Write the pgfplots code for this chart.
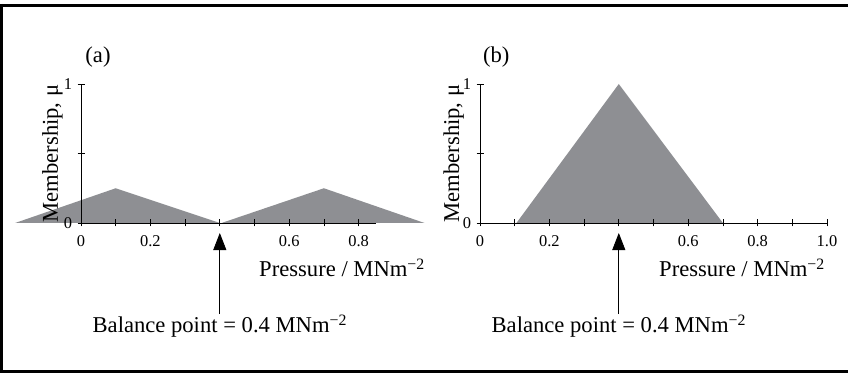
\documentclass[border=0pt]{standalone}
\usepackage{fontspec}
\setmainfont{Liberation Serif}
\usepackage{pgfplots}
\pgfplotsset{compat=1.18}
\usetikzlibrary{arrows.meta}
\definecolor{trigray}{RGB}{142,143,147}
\newcommand{\lbfont}{\fontsize{22.7}{24}\selectfont}
\pgfplotsset{
  memb/.style={
    x=347bp, y=139bp, anchor=origin,
    ymin=0, ymax=1,
    axis x line*=bottom, axis y line*=left,
    axis line style={black, line width=0.8bp},
    every tick/.style={black, line width=0.8bp},
    tick align=center, major tick length=7bp,
    ytick={0,0.5,1}, yticklabels={0,,1},
    tick label style={font=\fontsize{16.5}{16.5}\selectfont},
    xticklabel style={yshift=-6bp},
    yticklabel style={xshift=-2bp},
    label style={font=\lbfont},
    axis on top, clip=false,
  }
}
\begin{document}
\begin{tikzpicture}
\useasboundingbox (0,0) rectangle (848bp,374bp);
\draw[line width=3bp] (0bp,368.5bp) -- (848bp,368.5bp);
\draw[line width=3bp] (1.5bp,370bp) -- (1.5bp,1.5bp);
\draw[line width=3bp] (0bp,2.5bp) -- (848bp,2.5bp);
% (a)
\begin{axis}[memb, at={(81bp,151bp)}, xmin=0, xmax=0.85,
  xtick={0,0.1,0.2,0.3,0.4,0.5,0.6,0.7,0.8},
  xticklabels={0,,0.2,,,,0.6,,0.8},
  xlabel={Pressure / MNm\textsuperscript{−2}},
  xlabel style={at={(axis description cs:0.885,-0.388)}, anchor=base},
  ylabel={Membership, μ},
  ylabel style={at={(axis description cs:-0.078,0.5)}, anchor=base},
]
\addplot[fill=trigray, draw=none] coordinates {(-0.19,0) (0.1,0.25) (0.4,0)} -- cycle;
\addplot[fill=trigray, draw=none] coordinates {(0.405,0) (0.7,0.25) (0.99,0)} -- cycle;
\node[font=\lbfont] at (axis cs:0.049,1.194) {(a)};
\draw[line width=0.8bp, -{Triangle[length=17bp,width=13bp]}] (axis cs:0.4,-0.655) -- (axis cs:0.4,-0.072);
\node[anchor=base, font=\lbfont] at (axis cs:0.4,-0.791) {Balance point = 0.4 MNm\textsuperscript{−2}};
\end{axis}
% (b)
\begin{axis}[memb, at={(480bp,151bp)}, xmin=0, xmax=1.0,
  xtick={0,0.1,0.2,0.3,0.4,0.5,0.6,0.7,0.8,0.9,1.0},
  xticklabels={0,,0.2,,,,0.6,,0.8,,1.0},
  xlabel={Pressure / MNm\textsuperscript{−2}},
  xlabel style={at={(axis description cs:0.755,-0.388)}, anchor=base},
  ylabel={Membership, μ},
  ylabel style={at={(axis description cs:-0.0605,0.5)}, anchor=base},
]
\addplot[fill=trigray, draw=none] coordinates {(0.105,0) (0.4,1) (0.7,0)} -- cycle;
\node[font=\lbfont] at (axis cs:0.047,1.194) {(b)};
\draw[line width=0.8bp, -{Triangle[length=17bp,width=13bp]}] (axis cs:0.4,-0.655) -- (axis cs:0.4,-0.072);
\node[anchor=base, font=\lbfont] at (axis cs:0.4,-0.791) {Balance point = 0.4 MNm\textsuperscript{−2}};
\end{axis}
\end{tikzpicture}
\end{document}
